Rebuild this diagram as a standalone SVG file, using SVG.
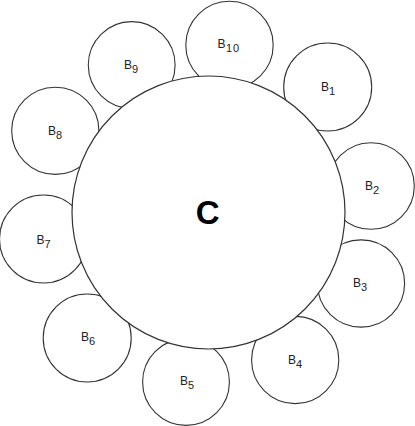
<svg xmlns="http://www.w3.org/2000/svg" width="415" height="426" viewBox="0 0 415 426">
<style>
.b{fill:#fff;stroke:#333;stroke-width:1.1}
.c{fill:#fff;stroke:#333;stroke-width:1.2}
.t{font-family:"Liberation Sans",Arial,sans-serif;font-size:12px;fill:#222}
.s{font-size:11px}
.big{font-family:"Liberation Sans",Arial,sans-serif;font-size:33px;font-weight:bold;fill:#000}
</style>
<rect width="415" height="426" fill="#fff"/>
<g id="connectors"></g>
<g id="B10"><circle class="b" cx="229.5" cy="45" r="43.7"/><text class="t" x="217.5" y="47.5">B<tspan class="s" dy="4" dx="0.5" letter-spacing="0.8">10</tspan></text></g>
<g id="B9"><circle class="b" cx="131.7" cy="65" r="43.4"/><text class="t" x="124" y="69">B<tspan class="s" dy="4">9</tspan></text></g>
<g id="B1"><circle class="b" cx="327.7" cy="87" r="44"/><text class="t" x="321" y="90.5">B<tspan class="s" dy="4">1</tspan></text></g>
<g id="B8"><circle class="b" cx="55.3" cy="130.8" r="43.6"/><text class="t" x="48" y="135">B<tspan class="s" dy="4">8</tspan></text></g>
<g id="B2"><circle class="b" cx="371" cy="186" r="43.3"/><text class="t" x="365" y="190">B<tspan class="s" dy="4">2</tspan></text></g>
<g id="B7"><circle class="b" cx="43.5" cy="239" r="44"/><text class="t" x="36.5" y="243.5">B<tspan class="s" dy="4">7</tspan></text></g>
<g id="B3"><circle class="b" cx="361" cy="283.5" r="43.6"/><text class="t" x="353" y="286.5">B<tspan class="s" dy="4">3</tspan></text></g>
<g id="B6"><circle class="b" cx="87.2" cy="338" r="44"/><text class="t" x="81" y="340.5">B<tspan class="s" dy="4">6</tspan></text></g>
<g id="B4"><circle class="b" cx="295.2" cy="360" r="43.6"/><text class="t" x="288" y="363.5">B<tspan class="s" dy="4">4</tspan></text></g>
<g id="B5"><circle class="b" cx="186" cy="382" r="43.4"/><text class="t" x="180" y="384.5">B<tspan class="s" dy="4">5</tspan></text></g>
<g id="C"><circle class="c" cx="208.5" cy="212.5" r="136.5"/><text class="big" x="207.7" y="224" text-anchor="middle">C</text></g>
</svg>
